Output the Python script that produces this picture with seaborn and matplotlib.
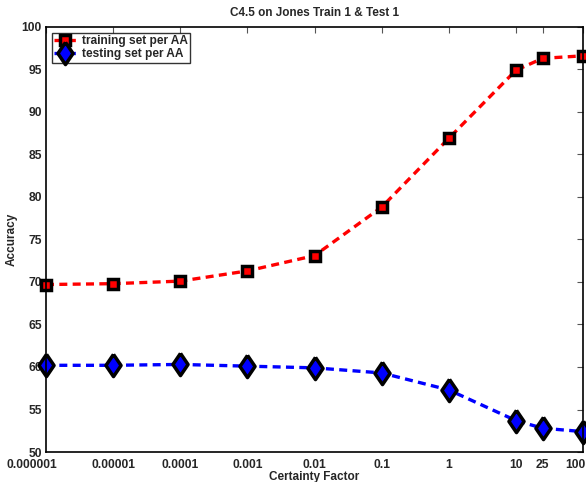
import matplotlib
matplotlib.use('Agg')
import matplotlib.pyplot as plt
import matplotlib.transforms as mtransforms
import seaborn as sns
import pandas as pd

# certainty factor values (x) and accuracy for each set
certainty = [0.000001, 0.00001, 0.0001, 0.001, 0.01, 0.1, 1, 10, 25, 100]
tick_labels = ['0.000001', '0.00001', '0.0001', '0.001', '0.01', '0.1', '1', '10', '25', '100']
train_acc = [69.7, 69.8, 70.1, 71.3, 73.1, 78.8, 86.9, 94.9, 96.3, 96.6]
test_acc = [60.2, 60.2, 60.3, 60.1, 59.9, 59.3, 57.3, 53.7, 52.8, 52.4]

sns.set_style('white')
plt.rcParams['font.family'] = ['Liberation Sans', 'DejaVu Sans']
plt.rcParams['font.weight'] = 'bold'

train_df = pd.DataFrame({'cf': certainty, 'acc': train_acc})
test_df = pd.DataFrame({'cf': certainty, 'acc': test_acc})

# MATLAB-like diamond: a bit taller than wide
diamond = [(0, 1), (0.68, 0), (0, -1), (-0.68, 0), (0, 1)]

fig = plt.figure(figsize=(5.86, 4.82), dpi=100)
ax = fig.add_axes([0.0785, 0.0622, 0.9165, 0.882])

sns.lineplot(data=train_df, x='cf', y='acc', ax=ax, color='red',
             linewidth=2.4, dashes=(2.4, 1.6), marker='s', markersize=7,
             markerfacecolor='red', markeredgecolor='black', markeredgewidth=2.5,
             clip_on=False, label='training set per AA')
sns.lineplot(data=test_df, x='cf', y='acc', ax=ax, color='blue',
             linewidth=2.4, dashes=(2.4, 1.6), marker=diamond, markersize=16,
             markerfacecolor='blue', markeredgecolor='black', markeredgewidth=2.5,
             clip_on=False, label='testing set per AA')

ax.set_xscale('log')
ax.set_xlim(1e-6, 100)
ax.set_ylim(50, 100)
ax.set_xticks(certainty)
ax.set_xticklabels(tick_labels)
ax.minorticks_off()
ax.set_yticks(range(50, 101, 5))

ax.tick_params(direction='in', length=4, width=0.8, top=True, right=True,
               labelsize=8.7, color='#555555')
ax.tick_params(axis='x', pad=5)
ax.tick_params(axis='y', pad=3)
for lbl in ax.get_xticklabels() + ax.get_yticklabels():
    lbl.set_fontweight('bold')

# edge labels nudged inward like the original
xl = ax.get_xticklabels()
xl[0].set_transform(xl[0].get_transform() + mtransforms.ScaledTranslation(-14 / 100, 0, fig.dpi_scale_trans))
xl[-1].set_transform(xl[-1].get_transform() + mtransforms.ScaledTranslation(-8 / 100, 0, fig.dpi_scale_trans))

for sp in ax.spines.values():
    sp.set_linewidth(1.2)
    sp.set_color('black')

ax.set_xlabel('Certainty Factor', fontsize=8.5, fontweight='bold', labelpad=0)
ax.set_ylabel('Accuracy', fontsize=8.5, fontweight='bold', labelpad=3)
ax.set_title('C4.5 on Jones Train 1 & Test 1', fontsize=8.5, fontweight='bold', pad=8)

leg = ax.legend(loc='upper left', fontsize=8.6, frameon=True, fancybox=False,
                edgecolor='black', borderpad=0.2, handlelength=1.8,
                handletextpad=0.5, labelspacing=0.1, borderaxespad=0.5)
leg.get_frame().set_linewidth(1.0)
for t in leg.get_texts():
    t.set_fontweight('bold')

fig.savefig('out.png', dpi=100)
plt.close(fig)
